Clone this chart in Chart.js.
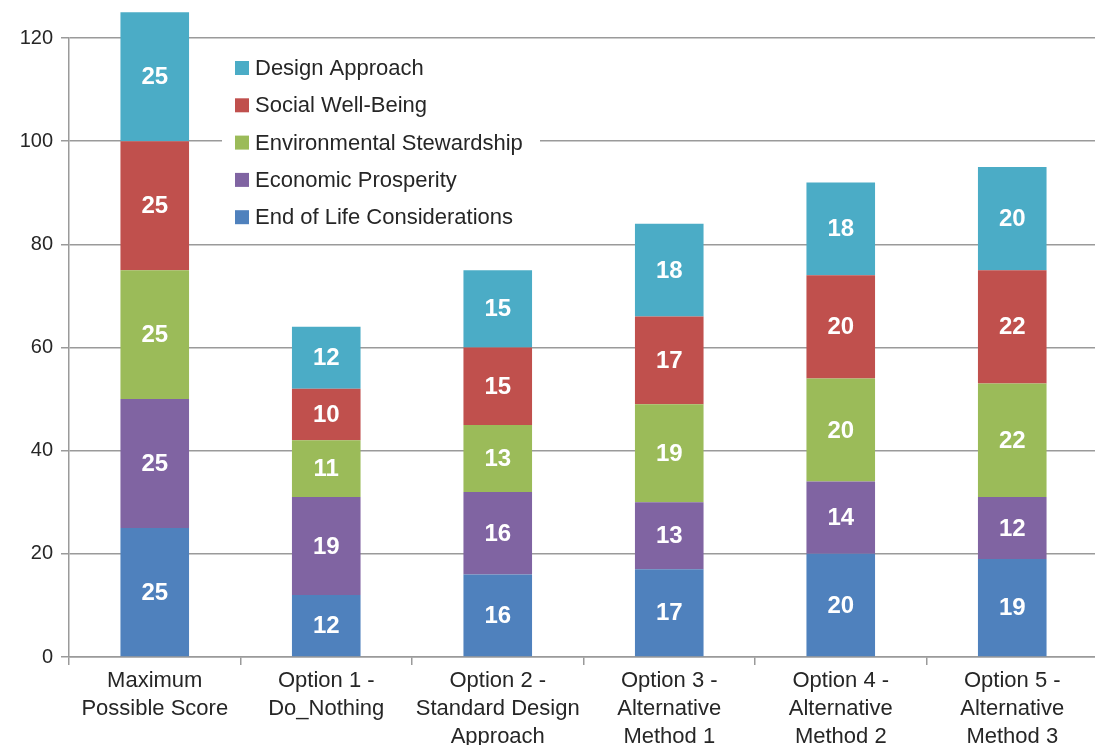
<!DOCTYPE html>
<html>
<head>
<meta charset="utf-8">
<script src="https://cdn.jsdelivr.net/npm/chart.js@4.4.0/dist/chart.umd.min.js"></script>
<style>
  html, body { margin: 0; padding: 0; background: #fff; overflow: hidden; }
  #wrap { width: 1100px; height: 745px; }
</style>
</head>
<body>
<div id="wrap"><canvas id="scoreChart" width="1100" height="745"></canvas></div>
<script>
// Categories and series (stack order bottom -> top)
const categories = [
  ['Maximum', 'Possible Score'],
  ['Option 1 -', 'Do_Nothing'],
  ['Option 2 -', 'Standard Design', 'Approach'],
  ['Option 3 -', 'Alternative', 'Method 1'],
  ['Option 4 -', 'Alternative', 'Method 2'],
  ['Option 5 -', 'Alternative', 'Method 3']
];
const endOfLife = [25, 12, 16, 17, 20, 19];
const economic = [25, 19, 16, 13, 14, 12];
const environmental = [25, 11, 13, 19, 20, 22];
const social = [25, 10, 15, 17, 20, 22];
const design = [25, 12, 15, 18, 18, 20];
const yTicks = [0, 20, 40, 60, 80, 100, 120];

const fontFamily = 'Arial, "Liberation Sans", Helvetica, sans-serif';
const textColor = '#262626';
const gridColor = '#9a9a9a';

// Legend drawn inside the plot (reverse stack order), on a white box
const insideLegend = {
  id: 'insideLegend',
  beforeDatasetsDraw(chart) {
    const ctx = chart.ctx;
    const items = chart.data.datasets.slice().reverse();
    ctx.save();
    ctx.fillStyle = '#fff';
    ctx.fillRect(222, 48, 318, 188);
    ctx.font = '22px ' + fontFamily;
    ctx.textBaseline = 'middle';
    items.forEach((ds, i) => {
      const y = 68 + i * 37.3;
      ctx.fillStyle = ds.backgroundColor;
      ctx.fillRect(235, y - 7, 14, 14);
      ctx.fillStyle = textColor;
      ctx.fillText(ds.label, 255, y + 1);
    });
    ctx.restore();
  }
};

// White value labels centred in each segment
const segmentLabels = {
  id: 'segmentLabels',
  afterDatasetsDraw(chart) {
    const ctx = chart.ctx;
    ctx.save();
    ctx.font = 'bold 24px ' + fontFamily;
    ctx.fillStyle = '#fff';
    ctx.textAlign = 'center';
    ctx.textBaseline = 'middle';
    chart.data.datasets.forEach((ds, di) => {
      chart.getDatasetMeta(di).data.forEach((bar, i) => {
        ctx.fillText(ds.data[i], bar.x, (bar.y + bar.base) / 2 + 1);
      });
    });
    ctx.restore();
  }
};

function makeSet(label, data, color) {
  return {
    label: label,
    data: data,
    backgroundColor: color,
    borderWidth: 0,
    barPercentage: 0.4,
    categoryPercentage: 1,
    clip: false
  };
}

new Chart(document.getElementById('scoreChart'), {
  type: 'bar',
  data: {
    labels: categories,
    datasets: [
      makeSet('End of Life Considerations', endOfLife, '#4f81bd'),
      makeSet('Economic Prosperity', economic, '#8064a2'),
      makeSet('Environmental Stewardship', environmental, '#9bbb59'),
      makeSet('Social Well-Being', social, '#c0504d'),
      makeSet('Design Approach', design, '#4bacc6')
    ]
  },
  options: {
    responsive: false,
    animation: false,
    layout: { padding: { top: 38, right: 2, left: 0, bottom: 0 } },
    plugins: {
      legend: { display: false },
      tooltip: { enabled: false }
    },
    scales: {
      x: {
        stacked: true,
        afterFit: scale => { scale.height = 88; },
        grid: {
          offset: true,
          drawOnChartArea: false,
          drawTicks: true,
          tickLength: 8,
          color: gridColor,
          lineWidth: 1.5
        },
        border: { color: gridColor, width: 1.5 },
        ticks: {
          color: textColor,
          padding: 2,
          maxRotation: 0,
          autoSkip: false,
          font: { family: fontFamily, size: 22, lineHeight: 1.27 }
        }
      },
      y: {
        stacked: true,
        min: 0,
        max: yTicks[yTicks.length - 1],
        afterFit: scale => { scale.width = 69; },
        afterBuildTicks: scale => { scale.ticks = yTicks.map(v => ({ value: v })); },
        grid: {
          color: gridColor,
          lineWidth: 1.5,
          tickLength: 8
        },
        border: { color: gridColor, width: 1.5 },
        ticks: {
          color: textColor,
          padding: 8,
          font: { family: fontFamily, size: 20 }
        }
      }
    }
  },
  plugins: [insideLegend, segmentLabels]
});
</script>
</body>
</html>
